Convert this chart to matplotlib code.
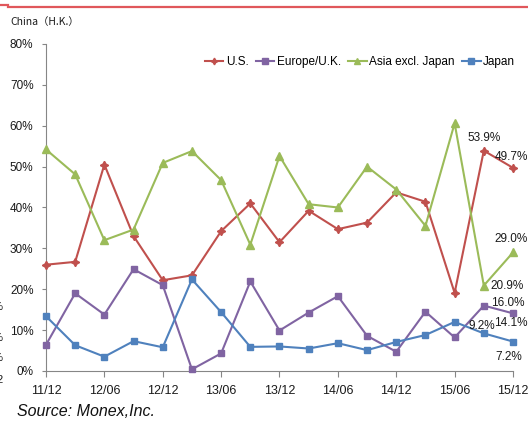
import matplotlib.pyplot as plt
from matplotlib.lines import Line2D

plt.rcParams['font.family'] = ['Liberation Sans', 'DejaVu Sans']

# quarterly periods, 2011/12 .. 2015/12
periods = ['11/12', '12/03', '12/06', '12/09', '12/12', '13/03', '13/06', '13/09',
           '13/12', '14/03', '14/06', '14/09', '14/12', '15/03', '15/06', '15/09', '15/12']
us = [26.0, 26.7, 50.5, 33.0, 22.2, 23.4, 34.2, 41.0, 31.5, 39.2, 34.7, 36.3,
      43.7, 41.4, 19.1, 53.9, 49.7]
europe = [6.4, 19.0, 13.8, 24.9, 21.0, 0.4, 4.3, 21.9, 9.9, 14.3, 18.3, 8.6,
          4.7, 14.5, 8.2, 16.0, 14.1]
asia = [54.2, 48.1, 32.0, 34.6, 50.9, 53.8, 46.7, 30.9, 52.6, 40.8, 40.0, 50.0,
        44.4, 35.5, 60.6, 20.9, 29.0]
japan = [13.4, 6.3, 3.5, 7.3, 5.8, 22.4, 14.4, 5.9, 6.0, 5.5, 6.8, 5.1,
         7.1, 8.8, 12.0, 9.2, 7.2]
yticks = [0, 10, 20, 30, 40, 50, 60, 70, 80]

RED, PURPLE, GREEN, BLUE = '#C0504D', '#8064A2', '#9BBB59', '#4F81BD'
AXIS = '#868686'
TXT = '#1a1a1a'

fig = plt.figure(figsize=(5.28, 4.25), dpi=100)
ax = fig.add_axes([0.0871, 0.1271, 0.8845, 0.7694])

x = list(range(len(periods)))
star4 = (4, 1, 0)
ax.plot(x, us, color=RED, lw=1.5, marker=star4, ms=6, mfc=RED, mec=RED,
        label='U.S.', clip_on=False, zorder=3)
ax.plot(x, europe, color=PURPLE, lw=1.5, marker='s', ms=5, mfc=PURPLE, mec=PURPLE,
        label='Europe/U.K.', clip_on=False, zorder=3)
ax.plot(x, asia, color=GREEN, lw=1.5, marker='^', ms=5.5, mfc=GREEN, mec=GREEN,
        label='Asia excl. Japan', clip_on=False, zorder=3)
ax.plot(x, japan, color=BLUE, lw=1.5, marker='s', ms=5, mfc=BLUE, mec=BLUE,
        label='Japan', clip_on=False, zorder=3)

ax.set_xlim(0, len(periods) - 1)
ax.set_ylim(0, 80)
ax.set_xticks(x[::2])
ax.set_xticklabels(periods[::2])
ax.set_yticks(yticks)
ax.set_yticklabels([f'{v}%' for v in yticks])

for side in ['top', 'right']:
    ax.spines[side].set_visible(False)
for side in ['left', 'bottom']:
    ax.spines[side].set_color(AXIS)
    ax.spines[side].set_linewidth(0.8)
ax.tick_params(axis='both', direction='out', color=AXIS, labelsize=8.5, labelcolor=TXT)
ax.tick_params(axis='x', length=4, pad=6, labelsize=9)
ax.tick_params(axis='y', length=3, pad=6)

# value labels for the last points
def label(val, i, dx, dy, ha='center', va='center'):
    ax.annotate(f'{val:.1f}%', (x[i], val), xytext=(dx, dy), textcoords='offset points',
                ha=ha, va=va, fontsize=8.5, color=TXT, annotation_clip=False)

label(us[15], 15, 0, 9)
label(us[16], 16, 10.5, 8, ha='right')
label(asia[16], 16, 10.5, 10, ha='right')
label(asia[15], 15, 5, 0, ha='left')
label(europe[15], 15, 5, 2, ha='left')
label(europe[16], 16, 10.5, -7, ha='right')
label(japan[15], 15, -1.5, 5)
label(japan[16], 16, -3, -11)

ax.legend(loc='center', bbox_to_anchor=(0.672, 0.945), ncol=4, frameon=False,
          fontsize=8.5, handlelength=1.6, handletextpad=0.2, columnspacing=0.6,
          markerscale=0.8)

fig.text(0.019, 0.948, 'China（H.K.）', fontsize=7.5, family=['Noto Sans CJK JP', 'DejaVu Sans'],
         color=TXT, va='center')
fig.text(0.032, 0.031, 'Source: Monex,Inc.', fontsize=11.5, style='italic',
         family='Liberation Sans', color='#111111', va='center')

# red rule along the top
fig.add_artist(Line2D([0, 0.016], [0.988, 0.988], color='#E0575B', lw=1.6))
fig.add_artist(Line2D([0.016, 1.0], [0.984, 0.984], color='#E0575B', lw=1.6))

# edge of the neighbouring panel
for yy, s in [(0.278, '5%'), (0.205, '0%'), (0.158, '5%'), (0.105, '2')]:
    fig.text(0.006, yy, s, fontsize=8, ha='right', va='center', color=TXT)

fig.savefig('out.png', dpi=100)
